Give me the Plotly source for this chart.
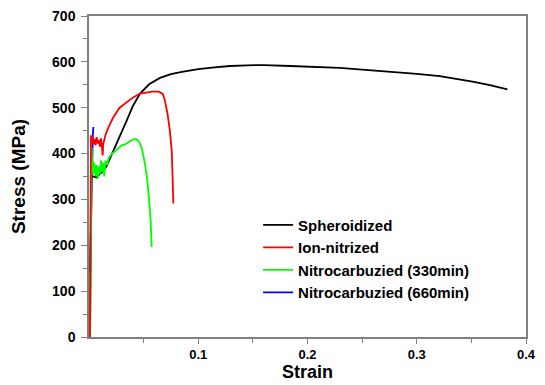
import plotly.graph_objects as go

# Spheroidized (black)
sph_strain = [0.001, 0.0015, 0.002, 0.004, 0.007, 0.010, 0.013, 0.016, 0.020, 0.0265, 0.0345, 0.040,
              0.0467, 0.055, 0.065, 0.075, 0.085, 0.100, 0.115, 0.129, 0.145, 0.16, 0.184, 0.205,
              0.2296, 0.25, 0.275, 0.30, 0.321, 0.337, 0.351, 0.367, 0.383]
sph_stress = [0, 200, 348, 350, 348, 356, 362, 372, 395, 429, 472, 503,
              531, 551, 565, 573, 578, 584, 588, 591, 592.5, 593, 591, 589,
              587, 583, 579, 574, 569, 563, 557, 549, 540]

# Ion-nitrized (red)
ion_strain = [0.0008, 0.0012, 0.0015, 0.0018, 0.0025, 0.003, 0.004, 0.005, 0.006, 0.007, 0.008,
              0.009, 0.010, 0.011, 0.012, 0.0125, 0.013, 0.015, 0.018, 0.022, 0.028, 0.034,
              0.040, 0.0467, 0.053, 0.058, 0.064, 0.0675, 0.0695, 0.072, 0.074, 0.0757, 0.0765, 0.0772]
ion_stress = [0, 150, 300, 440, 425, 438, 420, 432, 418, 436, 422,
              430, 415, 433, 410, 396, 420, 440, 458, 478, 500, 512,
              522, 531, 534, 535, 535, 530, 516, 485, 450, 407, 350, 291]

# Nitrocarbuzied (330min) (green)
n330_strain = [0.001, 0.0015, 0.002, 0.0025, 0.003, 0.0035, 0.004, 0.005, 0.006, 0.007, 0.008,
               0.009, 0.010, 0.011, 0.012, 0.013, 0.014, 0.015, 0.0165, 0.018, 0.021, 0.024,
               0.027, 0.030, 0.033, 0.036, 0.039, 0.042, 0.044, 0.046, 0.0485, 0.051, 0.053,
               0.055, 0.0565, 0.0574]
n330_stress = [0, 200, 300, 414, 370, 385, 355, 380, 350, 375, 345,
               372, 355, 385, 360, 380, 350, 385, 375, 390, 400, 405,
               412, 418, 420, 425, 429, 432, 431, 425, 410, 380, 349,
               300, 250, 196]

# Nitrocarbuzied (660min) (blue)
n660_strain = [0.001, 0.002, 0.003, 0.0035, 0.004]
n660_stress = [142, 300, 400, 440, 458]

x_ticks = [0.1, 0.2, 0.3, 0.4]
x_tick_text = ["0.1", "0.2", "0.3", "0.4"]
y_ticks = [0, 100, 200, 300, 400, 500, 600, 700]

FONT = "Arial, Liberation Sans, sans-serif"

fig = go.Figure()
fig.add_trace(go.Scatter(x=n660_strain, y=n660_stress, mode="lines", name="Nitrocarbuzied (660min)",
                         line=dict(color="#0000ff", width=1.8), legendrank=4))
fig.add_trace(go.Scatter(x=sph_strain, y=sph_stress, mode="lines", name="Spheroidized",
                         line=dict(color="#000000", width=1.8), legendrank=1))
fig.add_trace(go.Scatter(x=n330_strain, y=n330_stress, mode="lines", name="Nitrocarbuzied (330min)",
                         line=dict(color="#00ff00", width=1.8), legendrank=3))
fig.add_trace(go.Scatter(x=ion_strain, y=ion_stress, mode="lines", name="Ion-nitrized",
                         line=dict(color="#ff0000", width=1.8), legendrank=2))

# page body has an 8px default margin, so the figure is sized/margined to compensate
fig.update_layout(
    width=537, height=377,
    margin=dict(l=81, r=19, t=8, b=48),
    paper_bgcolor="white", plot_bgcolor="white",
    font=dict(family=FONT, color="black"),
    showlegend=True,
    legend=dict(x=0.387, y=0.40, xanchor="left", yanchor="top",
                bgcolor="rgba(0,0,0,0)", font=dict(size=15, family=FONT, color="black", weight="bold"),
                tracegroupgap=0, itemwidth=30),
    xaxis=dict(range=[0, 0.4], tickvals=x_ticks, ticktext=x_tick_text, automargin=False,
               showgrid=False, zeroline=False, showline=True, mirror=True,
               linecolor="#808080", linewidth=1.5,
               ticks="outside", ticklen=5, tickcolor="#808080", tickwidth=1,
               minor=dict(tickvals=[0.05, 0.15, 0.25, 0.35], ticks="outside", ticklen=4, tickcolor="#808080"),
               ticklabelstandoff=0, ticklabeloverflow="allow",
               tickfont=dict(size=13, family=FONT, color="black", weight="bold"),
               title=dict(text="<b>Strain</b>", font=dict(size=18, family=FONT, color="black"), standoff=0)),
    yaxis=dict(range=[0, 700], tickvals=y_ticks, automargin=False,
               showgrid=False, zeroline=False, showline=True, mirror=True,
               linecolor="#808080", linewidth=1.5,
               ticks="outside", ticklen=6, tickcolor="#808080", tickwidth=1,
               minor=dict(tickvals=[50, 150, 250, 350, 450, 550, 650], ticks="outside", ticklen=4, tickcolor="#808080"),
               ticklabelstandoff=3, ticklabeloverflow="allow",
               tickfont=dict(size=14, family=FONT, color="black", weight="bold"),
               title=dict(text="<b>Stress (MPa)</b>", font=dict(size=19, family=FONT, color="black"), standoff=21)),
)

fig.write_html("out.html")
